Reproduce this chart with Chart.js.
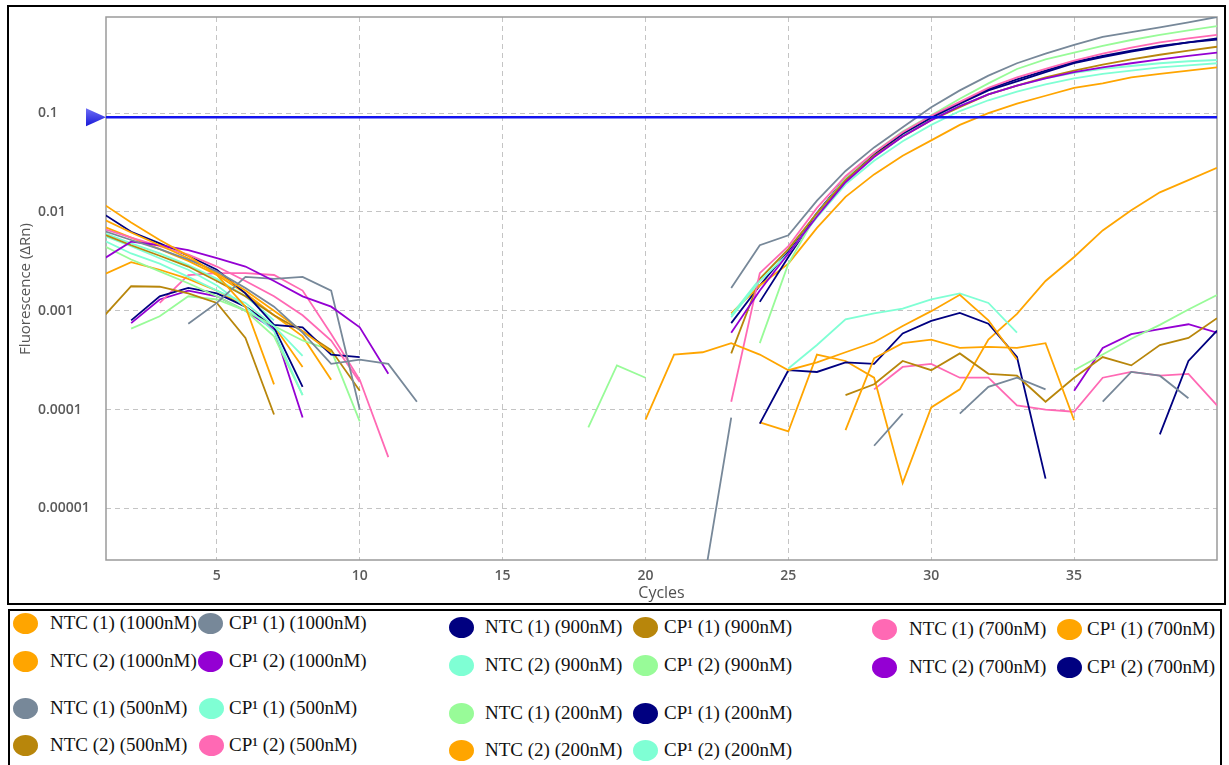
<!DOCTYPE html>
<html>
<head>
<meta charset="utf-8">
<script src="https://cdn.jsdelivr.net/npm/chart.js@4.4.0/dist/chart.umd.min.js"></script>
<style>
  html, body { margin: 0; padding: 0; background: #fff; width: 1229px; height: 765px; overflow: hidden; }
  #frame { position: absolute; left: 7px; top: 5px; width: 1215px; height: 596px; border: 2px solid #000; }
  #chartBox { position: absolute; left: 0; top: 0; width: 1229px; height: 603px; }
  #yTitle { position: absolute; left: 24px; top: 289px; transform: translate(-50%, -50%) rotate(-90deg);
            font: 15px "Open Sans", sans-serif; color: #555; white-space: nowrap; }
  #legendBox { position: absolute; left: 8px; top: 609px; width: 1210px; height: 200px; border: 2px solid #000; }
  .dot { position: absolute; width: 25px; height: 21px; border-radius: 50%; }
  .lbl { position: absolute; font: 19px "Liberation Serif", "Times New Roman", serif; line-height: 22px;
         color: #111; white-space: nowrap; }
</style>
</head>
<body>
<div id="frame"></div>
<div id="chartBox"><canvas id="ampChart" width="1229" height="603"></canvas></div>
<div id="yTitle">Fluorescence (ΔRn)</div>
<div id="legendBox"></div>

<script>
const _ = null;

// ciclos 1..40
const cycles = [1,2,3,4,5,6,7,8,9,10,11,12,13,14,15,16,17,18,19,20,
                21,22,23,24,25,26,27,28,29,30,31,32,33,34,35,36,37,38,39,40];

// valores ΔRn (null = sin valor / negativo)
const ntc1_1000 = [.0122,.0078,.0052,.0036,.0023,.0011,.00018,_,_,_,
                   _,_,_,_,_,_,_,_,_,.000079,
                   .00036,.00038,.00047,.00036,.00025,.0003,.00038,.00048,.0007,.00099,
                   .00145,.0008,.00032,_,_,_,_,_,_,_];
const cp1_1000  = [.0065,.0052,.0042,.0033,.0025,.0017,.0011,.0006,.00029,.00032,
                   .00029,.00012,_,_,_,_,_,_,_,_,
                   _,_,.0017,.0046,.0058,.013,.026,.045,.072,.115,
                   .17,.24,.32,.40,.49,.59,.66,.74,.83,.94];
const ntc2_1000 = [.0085,.0062,.0046,.0034,.0024,.0016,.001,.00062,.00038,_,
                   _,_,_,_,_,_,_,_,_,_,
                   _,_,_,_,_,_,.000062,.00033,.00047,.00051,
                   .00042,.00043,.00042,.00047,.000078,_,_,_,_,_];
const cp2_1000  = [.0033,.005,.0046,.0041,.0034,.0028,.002,.0014,.0011,.00068,
                   .00023,_,_,_,_,_,_,_,_,_,
                   _,_,.0006,.0016,.0038,.009,.02,.036,.058,.085,
                   .118,.155,.19,.225,.26,.29,.32,.35,.38,.41];
const ntc1_500  = [_,_,_,.00074,.0012,.0022,.0021,.0022,.0016,.0001,
                   _,_,_,_,_,_,_,_,_,_,
                   _,.0000015,.000083,_,_,_,_,.000043,.000091,_,
                   .000091,.00017,.00021,.00016,_,.00012,.00024,.00022,.00013,_];
const cp1_500   = [.0052,.0038,.003,.0022,.0016,.0012,.0007,.00035,_,_,
                   _,_,_,_,_,_,_,_,_,_,
                   _,_,.00086,.002,.0038,.0088,.019,.033,.052,.076,
                   .105,.135,.165,.195,.225,.25,.27,.29,.305,.32];
const ntc2_500  = [.00085,.00177,.00175,.0015,.0012,.00053,.000089,_,_,_,
                   _,_,_,_,_,_,_,_,_,_,
                   _,_,_,_,_,_,.00014,.00018,.00031,.00025,
                   .00037,.00023,.00022,.00012,.00021,.00034,.00028,.00045,.00053,.00084];
const cp2_500   = [.0068,.0055,.0045,.0037,.0028,.002,.0014,.0009,.0005,.00019,
                   _,_,_,_,_,_,_,_,_,_,
                   _,_,.00012,.0024,.0045,.011,.023,.04,.064,.094,
                   .13,.18,.23,.28,.34,.40,.46,.52,.57,.62];
const ntc1_900  = [.0097,.0063,.0048,.0036,.0026,.0015,.00072,.00068,.00036,.00034,
                   _,_,_,_,_,_,_,_,_,_,
                   _,_,_,.000072,.00025,.00024,.0003,.00029,.00059,.00079,
                   .00095,.00074,.00034,.00002,_,_,_,.000056,.00031,.00063];
const cp1_900   = [.006,.0046,.0036,.0028,.002,.0014,.0009,.00062,.0004,.000155,
                   _,_,_,_,_,_,_,_,_,_,
                   _,_,.00037,.0021,.0042,.0097,.021,.037,.058,.085,
                   .115,.155,.19,.23,.27,.31,.35,.39,.43,.47];
const ntc2_900  = [.0058,.0045,.0034,.0026,.0018,.0011,.00062,.00014,_,_,
                   _,_,_,_,_,_,_,_,_,_,
                   _,_,_,_,.00026,.00045,.00082,.00094,.00105,.0013,
                   .0015,.0012,.0006,_,_,_,_,_,_,_];
const cp2_900   = [.0046,.0033,.0025,.0019,.0014,.001,.00055,.00014,_,_,
                   _,_,_,_,_,_,_,_,_,_,
                   _,_,_,.00047,.003,.0095,.022,.04,.065,.095,
                   .14,.20,.28,.35,.41,.48,.55,.62,.69,.76];
const ntc1_200  = [_,.00066,.00088,.0014,.0013,.001,.0007,.0005,.0004,.000076,
                   _,_,_,_,_,_,_,.000066,.00028,.00021,
                   _,_,_,_,_,_,_,_,_,_,
                   _,_,_,_,.00025,.00036,.00052,.00072,.00103,.00144];
const cp1_200   = [_,.0008,.0014,.0017,.0015,.0011,.00068,.00017,_,_,
                   _,_,_,_,_,_,_,_,_,_,
                   _,_,_,.00123,.0035,.0095,.021,.038,.062,.09,
                   .125,.17,.21,.26,.32,.37,.42,.47,.52,.57];
const ntc2_200  = [.0023,.0031,.0026,.0021,.0016,.0011,.0007,.00027,_,_,
                   _,_,_,_,_,_,_,_,_,_,
                   _,_,_,.000074,.00006,.00036,.00031,.00021,.000018,.000105,
                   .00016,.00051,.00093,.002,.0035,.0065,.0104,.0158,.021,.028];
const cp2_200   = [.0062,.0048,.0038,.0029,.0021,.0014,.0008,_,_,_,
                   _,_,_,_,_,_,_,_,_,_,
                   _,_,.0009,.0021,.0042,.0097,.021,.038,.06,.087,
                   .118,.155,.19,.225,.255,.28,.30,.32,.335,.345];
const ntc1_700  = [_,_,.0012,.0023,.0024,.0024,.0023,.0016,.00058,.0002,
                   .000033,_,_,_,_,_,_,_,_,_,
                   _,_,_,_,_,_,_,.00016,.00027,.00029,
                   .00021,.00021,.00011,.0001,.000095,.00021,.00024,.00022,.00023,.00011];
const cp1_700   = [.0072,.0055,.0042,.0032,.0023,.0015,.0009,.00055,.0002,_,
                   _,_,_,_,_,_,_,_,_,_,
                   _,_,.00094,.0018,.003,.0069,.0142,.024,.037,.053,
                   .076,.10,.125,.15,.18,.20,.23,.25,.27,.29];
const ntc2_700  = [_,.00075,.0013,.0016,.0014,.001,.00065,.000083,_,_,
                   _,_,_,_,_,_,_,_,_,_,
                   _,_,_,_,_,_,_,_,_,_,
                   _,_,_,_,.000155,.00042,.00058,.00065,.00073,.0006];
const cp2_700   = [_,_,_,_,_,_,_,_,_,_,
                   _,_,_,_,_,_,_,_,_,_,
                   _,_,.00075,.0018,.004,.0098,.022,.039,.063,.092,
                   .128,.175,.22,.27,.33,.38,.43,.48,.52,.555];

const seriesData = [ntc1_1000, cp1_1000, ntc2_1000, cp2_1000, ntc1_500, cp1_500, ntc2_500, cp2_500,
                    ntc1_900, cp1_900, ntc2_900, cp2_900, ntc1_200, cp1_200, ntc2_200, cp2_200,
                    ntc1_700, cp1_700, ntc2_700, cp2_700];
const seriesLabels = ['NTC (1) (1000nM)', 'CP¹ (1) (1000nM)', 'NTC (2) (1000nM)', 'CP¹ (2) (1000nM)',
                      'NTC (1) (500nM)', 'CP¹ (1) (500nM)', 'NTC (2) (500nM)', 'CP¹ (2) (500nM)',
                      'NTC (1) (900nM)', 'CP¹ (1) (900nM)', 'NTC (2) (900nM)', 'CP¹ (2) (900nM)',
                      'NTC (1) (200nM)', 'CP¹ (1) (200nM)', 'NTC (2) (200nM)', 'CP¹ (2) (200nM)',
                      'NTC (1) (700nM)', 'CP¹ (1) (700nM)', 'NTC (2) (700nM)', 'CP¹ (2) (700nM)'];

// colores
const ORANGE = '#FFA500', GRAY = '#778899', VIOLET = '#9400D3', AQUA = '#7FFFD4',
      GOLD = '#B8860B', PINK = '#FF69B4', NAVY = '#000080', GREEN = '#98FB98';
const seriesColors = [ORANGE, GRAY, ORANGE, VIOLET, GRAY, AQUA, GOLD, PINK,
                      NAVY, GOLD, AQUA, GREEN, GREEN, NAVY, ORANGE, AQUA,
                      PINK, ORANGE, VIOLET, NAVY];

const xTicks = [5, 10, 15, 20, 25, 30, 35];
const yTicks = [0.00001, 0.0001, 0.001, 0.01, 0.1];
const yTickLabels = ['0.00001', '0.0001', '0.001', '0.01', '0.1'];
const X_MIN = 1.12, X_MAX = 40;
const Y_MIN = 0.000003, Y_MAX = 0.94;
const THRESHOLD = 0.091;

// marco del área de trazado
const plotBorder = {
    id: 'plotBorder',
    beforeDatasetsDraw(chart) {
        const { ctx, chartArea: a } = chart;
        ctx.save();
        ctx.strokeStyle = '#9a9a9a';
        ctx.lineWidth = 1.5;
        ctx.strokeRect(a.left, a.top, a.right - a.left, a.bottom - a.top);
        ctx.restore();
    }
};

// línea de umbral con su marcador
const thresholdLine = {
    id: 'thresholdLine',
    afterDatasetsDraw(chart) {
        const { ctx, chartArea: a } = chart;
        const y = chart.scales.y.getPixelForValue(THRESHOLD);
        ctx.save();
        ctx.strokeStyle = '#1414ee';
        ctx.lineWidth = 2.5;
        ctx.beginPath();
        ctx.moveTo(a.left, y);
        ctx.lineTo(a.right, y);
        ctx.stroke();
        const g = ctx.createLinearGradient(0, y - 9, 0, y + 9);
        g.addColorStop(0, '#6f6ff5');
        g.addColorStop(1, '#1818d8');
        ctx.fillStyle = g;
        ctx.beginPath();
        ctx.moveTo(a.left - 20, y - 9);
        ctx.lineTo(a.left, y);
        ctx.lineTo(a.left - 20, y + 9);
        ctx.closePath();
        ctx.fill();
        ctx.restore();
    }
};

const tickFont = { family: 'Open Sans', size: 14, weight: '600' };

new Chart(document.getElementById('ampChart').getContext('2d'), {
    type: 'line',
    data: {
        datasets: seriesData.map((vals, i) => ({
            label: seriesLabels[i],
            data: vals.map((v, k) => ({ x: cycles[k], y: v })),
            borderColor: seriesColors[i],
            borderWidth: 1.8,
            pointRadius: 0,
            tension: 0,
            spanGaps: false,
            fill: false
        }))
    },
    options: {
        responsive: false,
        animation: false,
        layout: { padding: { left: 38, top: 17, right: 12, bottom: 0 } },
        plugins: { legend: { display: false }, tooltip: { enabled: false } },
        scales: {
            x: {
                type: 'linear',
                min: X_MIN,
                max: X_MAX,
                afterBuildTicks: s => { s.ticks = xTicks.map(v => ({ value: v })); },
                afterFit: s => { s.height = 43; },
                grid: { color: '#c4c4c4', lineWidth: 1, drawTicks: false },
                border: { display: false, dash: [5, 4] },
                ticks: { color: '#5a5a5a', font: tickFont, padding: 8, maxRotation: 0, autoSkip: false },
                title: { display: true, text: 'Cycles', color: '#505050', font: { family: 'Open Sans', size: 16 }, padding: 0 }
            },
            y: {
                type: 'logarithmic',
                min: Y_MIN,
                max: Y_MAX,
                afterBuildTicks: s => { s.ticks = yTicks.map(v => ({ value: v })); },
                afterFit: s => { s.width = 68; },
                grid: { color: '#c4c4c4', lineWidth: 1, drawTicks: false },
                border: { display: false, dash: [5, 4] },
                ticks: {
                    color: '#5a5a5a', font: tickFont, crossAlign: 'far', autoSkip: false,
                    callback: (v, i) => yTickLabels[i]
                }
            }
        }
    },
    plugins: [plotBorder, thresholdLine]
});

// leyenda en HTML (tres grupos de dos columnas)
const legendSlots = [
    // [centro x del círculo, centro y, x del texto]
    [25, 623, 50], [210, 623, 229], [25, 661, 50], [210, 661, 229],
    [25, 708, 50], [211, 708, 229], [25, 745, 50], [211, 745, 229],
    [461, 627, 485], [645, 627, 664], [461, 665, 485], [645, 665, 664],
    [461, 713, 485], [645, 713, 664], [461, 750, 485], [645, 750, 664],
    [884, 629, 909], [1069, 629, 1087], [884, 667, 909], [1069, 667, 1087]
];
legendSlots.forEach(([cx, cy, tx], i) => {
    const dot = document.createElement('div');
    dot.className = 'dot';
    dot.style.left = (cx - 12.5) + 'px';
    dot.style.top = (cy - 10.5) + 'px';
    dot.style.background = seriesColors[i];
    document.body.appendChild(dot);
    const lbl = document.createElement('div');
    lbl.className = 'lbl';
    lbl.style.left = tx + 'px';
    lbl.style.top = (cy - 11) + 'px';
    lbl.textContent = seriesLabels[i];
    document.body.appendChild(lbl);
});
</script>
</body>
</html>
